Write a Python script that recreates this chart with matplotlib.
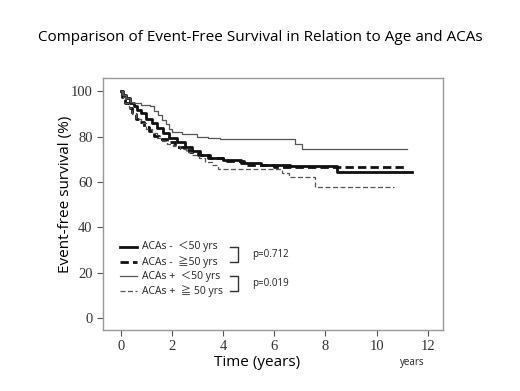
import matplotlib.pyplot as plt

# Kaplan-Meier style step curves
t_neg_lt50 = [0, 0.1, 0.2, 0.35, 0.5, 0.65, 0.8, 1.0, 1.2, 1.4, 1.65, 1.9, 2.2, 2.5, 2.8, 3.1, 3.5, 4.0, 4.7, 5.5, 6.6, 8.45, 11.4]
s_neg_lt50 = [100, 98.5, 97, 95, 93.5, 92, 90.3, 88, 86, 84, 81.5, 79.5, 77.5, 75.5, 73.5, 72, 70.8, 69.7, 68.4, 67.5, 67, 64.5, 64.5]

t_neg_ge50 = [0, 0.05, 0.15, 0.3, 0.45, 0.6, 0.75, 0.9, 1.1, 1.3, 1.5, 1.8, 2.1, 2.45, 2.7, 3.0, 3.4, 4.0, 4.8, 6.0, 8.5, 11.2]
s_neg_ge50 = [100, 97.5, 95, 92.5, 90, 88, 86.3, 84.5, 82.5, 80.5, 79, 77.5, 75.5, 74, 73.2, 72, 70.7, 69.5, 67.5, 66.8, 66.5, 66.5]

t_pos_lt50 = [0, 0.1, 0.2, 0.35, 0.47, 0.8, 1.14, 1.3, 1.45, 1.6, 1.75, 1.9, 2.0, 2.4, 2.97, 3.4, 3.88, 6.82, 7.1, 11.2]
s_pos_lt50 = [100, 98.5, 97, 95.5, 94.7, 94.2, 93.4, 91.5, 89.5, 87.5, 85.5, 83.5, 82, 81.3, 80, 79.5, 78.8, 76.9, 74.7, 74.7]

t_pos_ge50 = [0, 0.05, 0.15, 0.3, 0.45, 0.6, 0.8, 1.0, 1.2, 1.4, 1.6, 1.8, 2.05, 2.3, 2.55, 2.8, 3.05, 3.3, 3.55, 3.8, 6.3, 6.56, 7.6, 10.7]
s_pos_ge50 = [100, 97.5, 95, 92.5, 90, 88, 86, 83.5, 81.5, 79.5, 78, 77, 75.8, 74.5, 73.2, 72, 70.5, 68.8, 67.3, 65.9, 64.1, 62.2, 57.8, 57.8]

labels = ["ACAs -  \uff1c50 yrs", "ACAs -  \u226750 yrs", "ACAs +  \uff1c50 yrs", "ACAs +  \u2267 50 yrs"]
p_values = ["p=0.712", "p=0.019"]
x_ticks = [0, 2, 4, 6, 8, 10, 12]
y_ticks = [0, 20, 40, 60, 80, 100]

fig = plt.figure(figsize=(5.2, 3.91), dpi=100)
ax = fig.add_axes([0.198, 0.156, 0.654, 0.645])

ax.step(t_neg_lt50, s_neg_lt50, where="post", color="#111111", lw=2.0, ls="-")
ax.step(t_neg_ge50, s_neg_ge50, where="post", color="#111111", lw=2.0, ls=(0, (3, 1.5)))
ax.step(t_pos_lt50, s_pos_lt50, where="post", color="#555555", lw=0.9, ls="-")
ax.step(t_pos_ge50, s_pos_ge50, where="post", color="#555555", lw=0.9, ls=(0, (4, 2)))

ax.set_xlim(-0.7, 12.6)
ax.set_ylim(-5.3, 106)
ax.set_xticks(x_ticks)
ax.set_yticks(y_ticks)
for sp in ax.spines.values():
    sp.set_color("#999999")
    sp.set_linewidth(1.0)
ax.tick_params(direction="out", length=4, color="#555555", labelsize=10.5, labelcolor="#333333")
for lab in ax.get_xticklabels() + ax.get_yticklabels():
    lab.set_family("Liberation Serif")

fig.text(65 / 520, 1 - 194 / 391, "Event-free survival (%)", fontsize=11, family="Open Sans",
         rotation=90, ha="center", va="center")
fig.text(257 / 520, 1 - 363 / 391, "Time (years)", fontsize=11, family="Open Sans",
         ha="center", va="center")
fig.text(400 / 520, 1 - 363 / 391, "years", fontsize=7, family="Open Sans", color="#222222",
         va="center")

fig.text(0.5, 0.905, "Comparison of Event-Free Survival in Relation to Age and ACAs",
         ha="center", va="center", fontsize=11, family="Open Sans")

# legend drawn by hand in figure coords to match the layout
styles = [("#111111", 2.0, "-"), ("#111111", 2.0, (0, (3, 1.5))),
          ("#555555", 0.9, "-"), ("#555555", 0.9, (0, (4, 2)))]
ys = [247, 262, 276, 291]
for (c, lw, ls), lab, yp in zip(styles, labels, ys):
    fy = 1 - yp / 391
    fig.add_artist(plt.Line2D([120 / 520, 137 / 520], [fy, fy], color=c, lw=lw, ls=ls))
    fig.text(142 / 520, fy, lab, fontsize=7.5, va="center",
             family=["Open Sans", "Noto Sans CJK JP"], color="#222222")

for (ya, yb), p in zip([(247, 262), (276, 291)], p_values):
    x0, x1 = 230 / 520, 238 / 520
    fa, fb = 1 - ya / 391, 1 - yb / 391
    fig.add_artist(plt.Line2D([x0, x1, x1, x0], [fa, fa, fb, fb], color="#333333", lw=1.0))
    fig.text(252 / 520, (fa + fb) / 2, p, fontsize=7, va="center", family="Open Sans", color="#222222")

fig.savefig("out.png", dpi=100)
